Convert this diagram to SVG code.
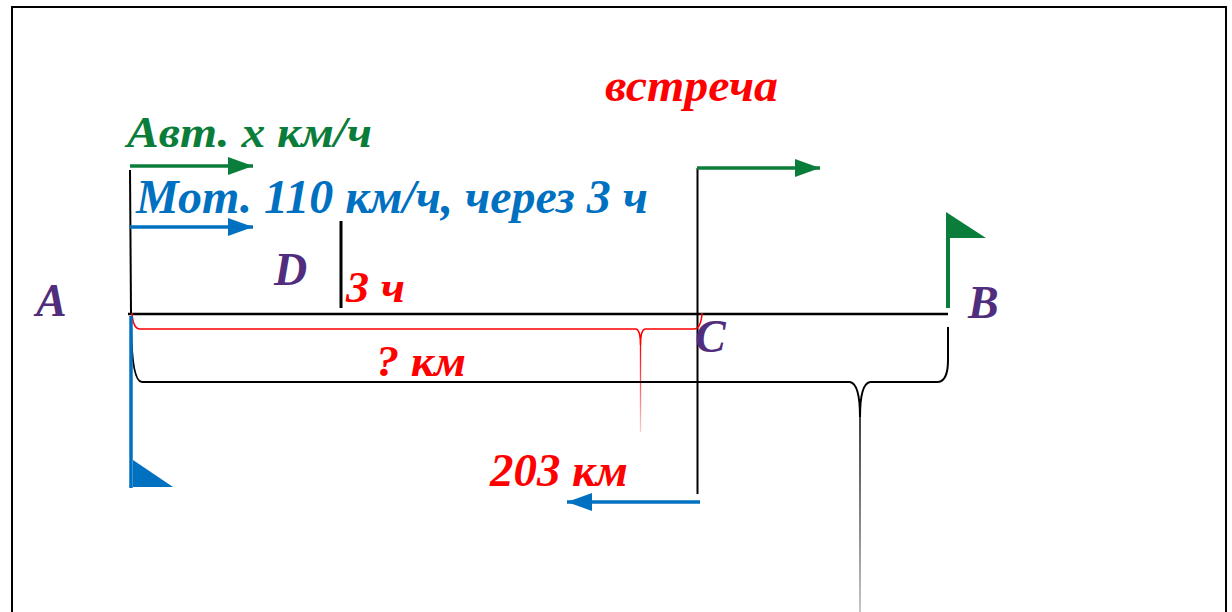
<svg xmlns="http://www.w3.org/2000/svg" width="1232" height="612" viewBox="0 0 1232 612">
<style>
.t{font-family:"Liberation Serif","Times New Roman",serif;font-weight:bold;font-style:italic}
.red{fill:#FF0000}
.pur{fill:#512D7D}
.grn{fill:#0B7D3A}
.blu{fill:#0070C0}
.blk{stroke:#000;fill:none}
</style>
<defs>
<marker id="ahG" markerUnits="userSpaceOnUse" markerWidth="26" markerHeight="18" refX="25" refY="9" orient="auto"><path d="M0,0 L25,9 L0,18 z" fill="#0B7D3A"/></marker>
<marker id="ahB" markerUnits="userSpaceOnUse" markerWidth="26" markerHeight="18" refX="25" refY="9" orient="auto"><path d="M0,0 L25,9 L0,18 z" fill="#0070C0"/></marker>
<linearGradient id="fadeR" gradientUnits="userSpaceOnUse" x1="0" y1="345" x2="0" y2="432"><stop offset="0" stop-color="#FF0000"/><stop offset="1" stop-color="#FF0000" stop-opacity="0.2"/></linearGradient>
<linearGradient id="fadeK" gradientUnits="userSpaceOnUse" x1="0" y1="417" x2="0" y2="612"><stop offset="0" stop-color="#000"/><stop offset="1" stop-color="#000" stop-opacity="0.3"/></linearGradient>
</defs>
<rect x="12" y="7" width="1214" height="640" fill="#fff" stroke="#000" stroke-width="2"/>
<g id="connectors">
<line x1="128" y1="314" x2="948" y2="314" class="blk" stroke-width="2.5"/>
<line x1="130" y1="170" x2="131" y2="313" class="blk" stroke-width="2"/>
<line x1="341" y1="221" x2="341" y2="308" class="blk" stroke-width="3"/>
<line x1="697.5" y1="168" x2="697.5" y2="494" class="blk" stroke-width="2"/>
<line x1="130" y1="166" x2="253" y2="166" stroke="#0B7D3A" stroke-width="3.5" marker-end="url(#ahG)"/>
<line x1="130" y1="227" x2="253" y2="227" stroke="#0070C0" stroke-width="3.5" marker-end="url(#ahB)"/>
<line x1="697" y1="168" x2="820" y2="168" stroke="#0B7D3A" stroke-width="3.5" marker-end="url(#ahG)"/>
<line x1="700" y1="502" x2="567" y2="502" stroke="#0070C0" stroke-width="3.5" marker-end="url(#ahB)"/>
<path d="M132,313 Q133,329 140,329 L636,329 Q640.5,330 640.5,345 M645,329 Q640.5,330 640.5,345 M645,329 L694,329 Q701,329 702,313" fill="none" stroke="#FF0000" stroke-width="1.6"/>
<line x1="640.5" y1="345" x2="640.5" y2="432" stroke="url(#fadeR)" stroke-width="1.3"/>
<path d="M131,327 Q132,382 142,382 L850,382 Q860,384 860,417 M870,382 Q860,384 860,417 M870,382 L938,382 Q948,381 948,360 L948,327" fill="none" stroke="#000" stroke-width="2"/>
<line x1="860" y1="417" x2="860" y2="612" stroke="url(#fadeK)" stroke-width="1.5"/>
</g>
<g id="flagA">
<line x1="131" y1="316" x2="131" y2="488" stroke="#0070C0" stroke-width="3.5"/>
<polygon points="133,460 133,487 173,487" fill="#0070C0"/>
</g>
<g id="flagB">
<line x1="948" y1="236" x2="948" y2="308" stroke="#0B7D3A" stroke-width="4"/>
<polygon points="946,212 946,238 986,238" fill="#0B7D3A"/>
</g>
<g id="labels">
<text class="t grn" x="127" y="147" font-size="45" textLength="245" lengthAdjust="spacingAndGlyphs">Авт. x км/ч</text>
<text class="t blu" x="136" y="213" font-size="48" textLength="512" lengthAdjust="spacingAndGlyphs">Мот. 110 км/ч, через 3 ч</text>
<text class="t red" x="605" y="101" font-size="46" textLength="173" lengthAdjust="spacingAndGlyphs">встреча</text>
<text class="t pur" x="36" y="316" font-size="46">A</text>
<text class="t pur" x="274" y="285" font-size="46">D</text>
<text class="t pur" x="968" y="318" font-size="46">B</text>
<text class="t pur" x="695" y="352" font-size="46">C</text>
<text class="t red" x="346" y="302" font-size="44" textLength="59" lengthAdjust="spacingAndGlyphs">3 ч</text>
<text class="t red" x="376" y="376" font-size="44" textLength="90" lengthAdjust="spacingAndGlyphs">? км</text>
<text class="t red" x="490" y="486" font-size="46" textLength="138" lengthAdjust="spacingAndGlyphs">203 км</text>
</g>
</svg>
